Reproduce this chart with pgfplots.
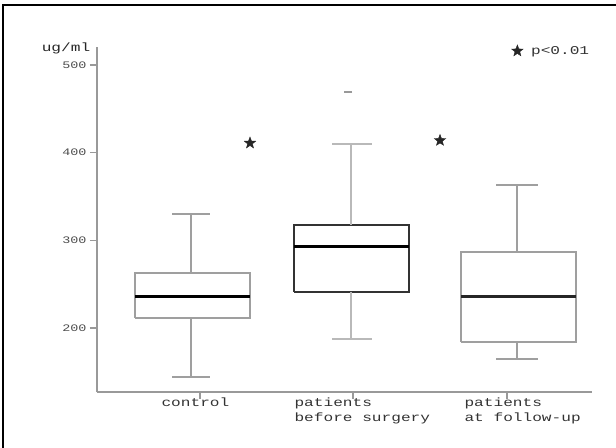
\documentclass[border=0pt]{standalone}
\usepackage{fontspec}
\setmainfont{Liberation Mono}[FakeStretch=1.35]
\usepackage{pgfplots}
\pgfplotsset{compat=1.18}
\pgfdeclareplotmark{fstar}{%
  \pgfpathmoveto{\pgfpointpolar{90}{\pgfplotmarksize}}%
  \pgfpathlineto{\pgfpointpolar{126}{0.42\pgfplotmarksize}}%
  \pgfpathlineto{\pgfpointpolar{162}{\pgfplotmarksize}}%
  \pgfpathlineto{\pgfpointpolar{198}{0.42\pgfplotmarksize}}%
  \pgfpathlineto{\pgfpointpolar{234}{\pgfplotmarksize}}%
  \pgfpathlineto{\pgfpointpolar{270}{0.42\pgfplotmarksize}}%
  \pgfpathlineto{\pgfpointpolar{306}{\pgfplotmarksize}}%
  \pgfpathlineto{\pgfpointpolar{342}{0.42\pgfplotmarksize}}%
  \pgfpathlineto{\pgfpointpolar{18}{\pgfplotmarksize}}%
  \pgfpathlineto{\pgfpointpolar{54}{0.42\pgfplotmarksize}}%
  \pgfpathclose\pgfusepathqfillstroke}
\begin{document}
\begin{tikzpicture}
\useasboundingbox (0bp,0bp) rectangle (616bp,448bp);
\draw[line width=2.4bp, black] (3bp,0bp) -- (3bp,443bp) -- (616bp,443bp);
\begin{axis}[
  at={(97bp,56bp)}, anchor=south west,
  scale only axis, width=495bp, height=344.5bp,
  xmin=0.97, xmax=5.92, ymin=127, ymax=520,
  axis x line=bottom, axis y line=left,
  axis line style={-, draw=gray!80, line width=1.6bp},
  ytick={200,300,400,500}, xtick={2.0,3.53,5.07}, xticklabels={},
  tick align=outside, major tick length=7bp,
  tick style={gray!80, line width=1.4bp},
  yticklabel style={font=\fontsize{10}{12}\selectfont, text=gray!60!black},
  /pgf/number format/assume math mode=true,
  clip=false, unbounded coords=jump,
  legend style={at={(0.918,0.99)}, anchor=center, draw=none, fill=none,
    font=\fontsize{12}{14}\selectfont, text=gray!40!black},
  legend cell align=left,
  legend image code/.code={\pgfuseplotmark{fstar}},
  box/.style={line width=1.5bp, mark=none, forget plot},
  med/.style={black, line width=3bp, mark=none, forget plot},
]
\addplot[only marks, mark=fstar, mark size=6bp, black!85]
  coordinates {(2.50,411) (4.40,414)};
\addlegendentry{\hspace{6bp}p<0.01}

% control: lw 144, q1 211.4, med 236.5, q3 262.7, uw 330
\addplot[box, gray!75] coordinates {(1.35,211.4) (2.50,211.4) (2.50,262.7) (1.35,262.7) (1.35,211.4)};
\addplot[box, gray!75] coordinates {(1.91,262.7) (1.91,330) (nan,nan) (1.72,330) (2.10,330)
  (nan,nan) (1.91,211.4) (1.91,144) (nan,nan) (1.72,144) (2.10,144)};
\addplot[med] coordinates {(1.35,236.5) (2.50,236.5)};

% before surgery: lw 187.5, q1 241.1, med 293.5, q3 317.5, uw 409.9, outlier 469
\addplot[box, black!80] coordinates {(2.94,241.1) (4.09,241.1) (4.09,317.5) (2.94,317.5) (2.94,241.1)};
\addplot[box, gray!55] coordinates {(3.51,317.5) (3.51,409.9) (nan,nan) (3.32,409.9) (3.72,409.9)
  (nan,nan) (3.51,241.1) (3.51,187.5) (nan,nan) (3.32,187.5) (3.72,187.5)};
\addplot[med] coordinates {(2.94,293.5) (4.09,293.5)};
\addplot[only marks, mark=-, mark size=4bp, gray!80, line width=2bp, forget plot]
  coordinates {(3.48,469)};

% follow-up: lw 164.6, q1 184.0, med 236.5, q3 286.7, uw 363.1
\addplot[box, gray!75] coordinates {(4.61,184.0) (5.76,184.0) (5.76,286.7) (4.61,286.7) (4.61,184.0)};
\addplot[box, gray!75] coordinates {(5.17,286.7) (5.17,363.1) (nan,nan) (4.96,363.1) (5.38,363.1)
  (nan,nan) (5.17,184.0) (5.17,164.6) (nan,nan) (4.96,164.6) (5.38,164.6)};
\addplot[med, black!85] coordinates {(4.61,236.5) (5.76,236.5)};
\end{axis}
\node[anchor=center, font=\fontsize{12}{14}\selectfont, text=black!85] at (66bp,400bp) {ug/ml};
\begin{scope}[every node/.style={anchor=north west, align=left,
    font=\fontsize{12}{15}\selectfont, text=black!80}]
\node at (158bp,54bp) {control};
\node at (291bp,54bp) {patients\\before surgery};
\node at (461bp,54bp) {patients\\at follow-up};
\end{scope}
\end{tikzpicture}
\end{document}
